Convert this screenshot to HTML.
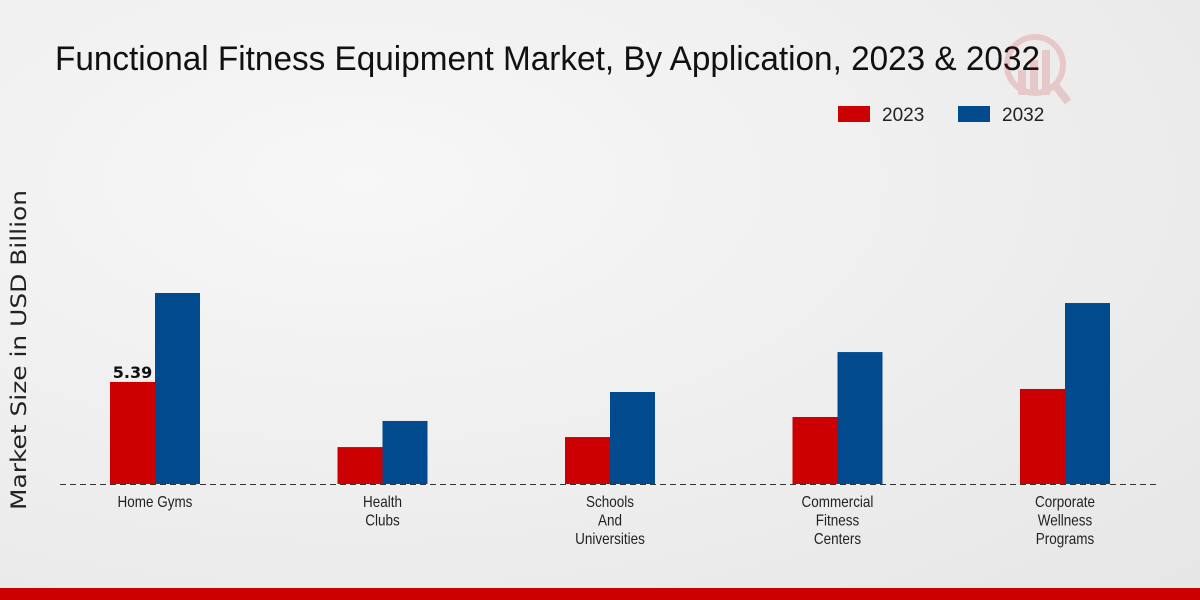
<!DOCTYPE html>
<html><head><meta charset="utf-8"><style>
html,body{margin:0;padding:0;width:1200px;height:600px;overflow:hidden}
body{background:radial-gradient(ellipse at 30% 30%,#f7f7f7 0%,#e6e6e6 100%);font-family:"Liberation Sans Narrow","Liberation Sans",sans-serif}
</style></head><body>
<svg id="chart" width="1200" height="600" xmlns="http://www.w3.org/2000/svg">
<text x="55" y="70" font-size="34" textLength="985" lengthAdjust="spacingAndGlyphs" fill="#111">Functional Fitness Equipment Market, By Application, 2023 &amp; 2032</text>
<g opacity="0.15" fill="#c00">
<circle cx="1035" cy="65" r="28" fill="none" stroke="#c00" stroke-width="6"/>
<rect x="1018" y="70" width="8" height="25"/><rect x="1030" y="60" width="8" height="35"/><rect x="1042" y="50" width="8" height="45"/>
<line x1="1055" y1="85" x2="1068" y2="102" stroke="#c00" stroke-width="8"/>
</g>
<g>
<rect x="838" y="106" width="32" height="16" fill="#cc0000"/>
<text x="882" y="121" font-size="19" fill="#222">2023</text>
<rect x="958" y="106" width="32" height="16" fill="#004a8d"/>
<text x="1002" y="121" font-size="19" fill="#222">2032</text>
</g>
<text transform="translate(26,350) rotate(-90)" text-anchor="middle" font-family="DejaVu Sans,sans-serif" font-size="21" textLength="320" lengthAdjust="spacingAndGlyphs" fill="#222">Market Size in USD Billion</text>
<line x1="60" y1="484.5" x2="1160" y2="484.5" stroke="#333" stroke-dasharray="6,4"/>
<g id="bars"></g>
<rect x="0" y="588" width="1200" height="12" fill="#cc0000"/>
</svg>
<script>
const categories=[["Home Gyms"],["Health","Clubs"],["Schools","And","Universities"],["Commercial","Fitness","Centers"],["Corporate","Wellness","Programs"]];
const values2023=[5.39,1.95,2.48,3.54,5.02];
const values2032=[10.09,3.33,4.86,6.97,9.56];
const NS="http://www.w3.org/2000/svg";
const g=document.getElementById('bars');
const base=484, scale=18.93;
const yH=v=>v*scale;
const xC=i=>155+i*227.5;
function mk(t,a){const e=document.createElementNS(NS,t);for(const k in a)e.setAttribute(k,a[k]);g.appendChild(e);return e;}
categories.forEach((c,i)=>{
  const cx=xC(i);
  const r1=mk('rect',{x:cx-45,y:base-yH(values2023[i]),width:45,height:yH(values2023[i]),fill:'#cc0000'});
  
  
  const r2=mk('rect',{x:cx,y:base-yH(values2032[i]),width:45,height:yH(values2032[i]),fill:'#004a8d'});
  
  
  c.forEach((line,j)=>{
    const t=mk('text',{x:cx,y:507+j*18.5,'text-anchor':'middle','font-size':'15.5',fill:'#222',transform:`translate(${cx},0) scale(0.87,1) translate(${-cx},0)`});
    t.textContent=line;
    
    
  });
});
const lbl=mk('text',{x:xC(0)-22.5,y:base-yH(values2023[0])-4,'text-anchor':'middle','font-size':'16','font-weight':'bold','font-family':'DejaVu Sans,sans-serif',fill:'#111'});
lbl.textContent=values2023[0].toFixed(2);


</script>
</body></html>
